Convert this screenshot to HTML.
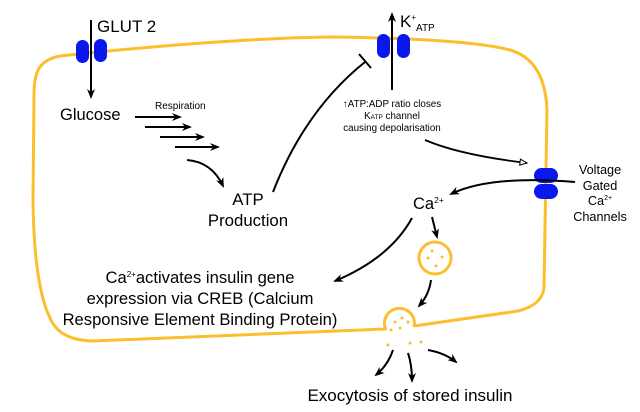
<!DOCTYPE html>
<html><head><meta charset="utf-8"><style>html,body{margin:0;padding:0;background:#fff}svg{display:block}text{font-family:"Liberation Sans",sans-serif;fill:#000}</style></head>
<body>
<svg width="640" height="412" viewBox="0 0 640 412" xmlns="http://www.w3.org/2000/svg">
<defs>
<marker id="a" markerWidth="10" markerHeight="8" refX="8" refY="4" orient="auto" markerUnits="userSpaceOnUse"><path d="M0,0 L10,4 L0,8 L3,4 Z" fill="#000"/></marker>
<marker id="o" markerWidth="10" markerHeight="10" refX="8" refY="4" orient="auto" markerUnits="userSpaceOnUse"><path d="M1,1 L8,4 L1,7 Z" fill="#fff" stroke="#000" stroke-width="1"/></marker>
</defs>
<g fill="none" stroke="#fbbf2d" stroke-width="3">
<path d="M60,56 C160,45 260,38 330,37 C420,38 480,42 510,50 Q545,60 547,110 L544,288 Q542,305 518,311 L414,326 M386,329 L92,341 Q62,340 52,322 Q34,290 33,200 L34,95 C34,70 40,60 60,56"/>
<path d="M386,330 A15,15 0 1 1 414,327"/>
<circle cx="435" cy="258" r="16"/>
</g>
<g fill="#fbbf2d">
<circle cx="432" cy="251" r="1.5"/><circle cx="442" cy="257" r="1.5"/><circle cx="428" cy="258" r="1.5"/><circle cx="436" cy="266" r="1.5"/>
<circle cx="402" cy="318" r="1.5"/><circle cx="408" cy="322" r="1.5"/><circle cx="395" cy="322" r="1.5"/><circle cx="400" cy="328" r="1.5"/><circle cx="391" cy="330" r="1.5"/>
<circle cx="388" cy="345" r="1.5"/><circle cx="410" cy="343" r="1.5"/><circle cx="421" cy="342" r="1.5"/>
</g>
<g fill="#0a18ee">
<rect x="76" y="40" width="13" height="23" rx="6.5"/><rect x="94" y="39" width="13" height="23" rx="6.5"/>
<rect x="377" y="34" width="13" height="24" rx="6.5"/><rect x="397" y="34" width="13" height="24" rx="6.5"/>
<rect x="534" y="168" width="24" height="15" rx="7.5"/><rect x="534" y="184" width="24" height="15" rx="7.5"/>
</g>
<g fill="none" stroke="#000" stroke-width="2">
<path d="M91,20 L91,97" marker-end="url(#a)"/>
<path d="M392,90 L392,14" marker-end="url(#a)"/>
<path d="M135,117 L180,117" marker-end="url(#a)"/>
<path d="M145,127 L190,127" marker-end="url(#a)"/>
<path d="M160,137 L203,137" marker-end="url(#a)"/>
<path d="M175,147 L218,147" marker-end="url(#a)"/>
<path d="M187,160 Q212,162 223,186" marker-end="url(#a)"/>
<path d="M273,192 Q305,110 365,62"/>
<path d="M359,54 L371,68"/>
<path d="M425,140 Q460,155 527,163" marker-end="url(#o)" stroke-width="1.8"/>
<path d="M575,182 Q490,175 451,194" marker-end="url(#a)"/>
<path d="M412,218 Q390,258 335,281" marker-end="url(#a)"/>
<path d="M432,217 L437,237" marker-end="url(#a)"/>
<path d="M431,280 Q429,295 419,306" marker-end="url(#a)"/>
<path d="M393,350 Q388,365 376,375" marker-end="url(#a)"/>
<path d="M408,353 Q412,365 412,381" marker-end="url(#a)"/>
<path d="M428,350 Q445,353 456,362" marker-end="url(#a)"/>
</g>
<text x="97" y="32" font-size="17">GLUT 2</text>
<text x="400" y="27" font-size="17">K<tspan font-size="8" dy="-7">+</tspan><tspan font-size="10" dy="11">ATP</tspan></text>
<text x="60" y="120" font-size="16.5">Glucose</text>
<text x="155" y="109" font-size="10">Respiration</text>
<text x="248" y="205" font-size="16.8" text-anchor="middle">ATP</text>
<text x="248" y="226" font-size="16.8" text-anchor="middle">Production</text>
<g font-size="9.8" text-anchor="middle">
<text x="392" y="107">↑ATP:ADP ratio closes</text>
<text x="392" y="119">K<tspan font-size="6.5">ATP</tspan> channel</text>
<text x="392" y="131">causing depolarisation</text>
</g>
<text x="413" y="209" font-size="16.5">Ca<tspan font-size="8.5" dy="-6">2+</tspan></text>
<g font-size="12.7" text-anchor="middle">
<text x="600" y="174">Voltage</text>
<text x="600" y="190">Gated</text>
<text x="600" y="205">Ca<tspan font-size="7" dy="-5">2+</tspan></text>
<text x="600" y="221">Channels</text>
</g>
<g font-size="16.6" text-anchor="middle">
<text x="200" y="283">Ca<tspan font-size="8" dy="-6">2+</tspan><tspan dy="6">activates insulin gene</tspan></text>
<text x="200" y="304">expression via CREB (Calcium</text>
<text x="200" y="325">Responsive Element Binding Protein)</text>
<text x="410" y="401" font-size="17">Exocytosis of stored insulin</text>
</g>
</svg>
</body></html>
